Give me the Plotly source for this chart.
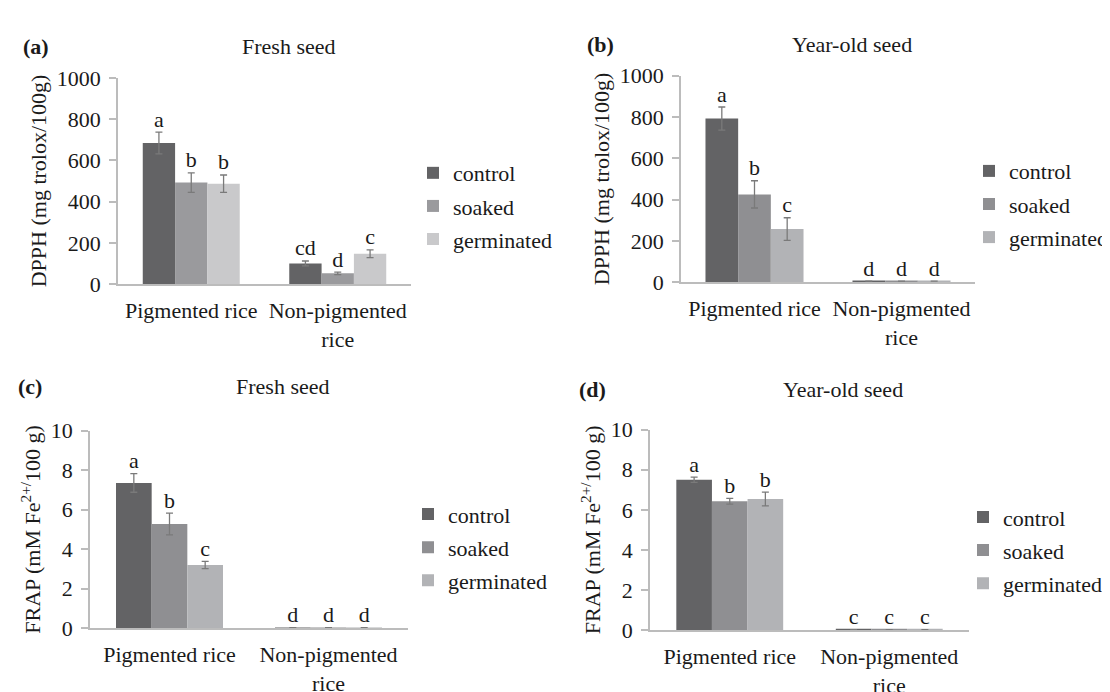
import plotly.graph_objects as go

# ---------------- data ----------------
categories = ["Pigmented rice", "Non-pigmented<br>rice"]
series_names = ["control", "soaked", "germinated"]

# (a) DPPH, fresh seed
dpph_fresh_control = [684, 100]
dpph_fresh_soaked = [492, 52]
dpph_fresh_germinated = [487, 147]
dpph_fresh_control_err = [53, 12]
dpph_fresh_soaked_err = [47, 6]
dpph_fresh_germinated_err = [42, 19]
dpph_fresh_letters = [["a", "cd"], ["b", "d"], ["b", "c"]]

# (b) DPPH, year-old seed
dpph_old_control = [792, 5]
dpph_old_soaked = [425, 5]
dpph_old_germinated = [257, 5]
dpph_old_control_err = [56, 0]
dpph_old_soaked_err = [66, 0]
dpph_old_germinated_err = [55, 0]
dpph_old_letters = [["a", "d"], ["b", "d"], ["c", "d"]]

# (c) FRAP, fresh seed
frap_fresh_control = [7.35, 0.03]
frap_fresh_soaked = [5.27, 0.03]
frap_fresh_germinated = [3.2, 0.03]
frap_fresh_control_err = [0.47, 0]
frap_fresh_soaked_err = [0.55, 0]
frap_fresh_germinated_err = [0.18, 0]
frap_fresh_letters = [["a", "d"], ["b", "d"], ["c", "d"]]

# (d) FRAP, year-old seed
frap_old_control = [7.5, 0.03]
frap_old_soaked = [6.43, 0.03]
frap_old_germinated = [6.54, 0.03]
frap_old_control_err = [0.13, 0]
frap_old_soaked_err = [0.14, 0]
frap_old_germinated_err = [0.34, 0]
frap_old_letters = [["a", "c"], ["b", "c"], ["b", "c"]]

dpph_ticks = [0, 200, 400, 600, 800, 1000]
frap_ticks = [0, 2, 4, 6, 8, 10]

# ---------------- styling ----------------
W, H = 1110, 692
FONT = "Liberation Serif"
TXT = "#1a1a1a"
AXC = "#bcbcbc"
colors_a = ["#636365", "#9a9a9d", "#c9c9cb"]
colors_b = ["#636365", "#8f8f92", "#b2b3b6"]

panels = [
    dict(label="(a)", title="Fresh seed",
         vals=[dpph_fresh_control, dpph_fresh_soaked, dpph_fresh_germinated],
         errs=[dpph_fresh_control_err, dpph_fresh_soaked_err, dpph_fresh_germinated_err],
         letters=dpph_fresh_letters, colors=colors_a, ticks=dpph_ticks,
         ytitle="DPPH (mg trolox/100g)",
         xpx=(110, 403), ypx=(274, 60), gap=0.338,
         titlepos=(280, 27), labpos=(28, 27), legpos=(405, 193)),
    dict(label="(b)", title="Year-old seed",
         vals=[dpph_old_control, dpph_old_soaked, dpph_old_germinated],
         errs=[dpph_old_control_err, dpph_old_soaked_err, dpph_old_germinated_err],
         letters=dpph_old_letters, colors=colors_b, ticks=dpph_ticks,
         ytitle="DPPH (mg trolox/100g)",
         xpx=(673, 967), ypx=(272, 57.7), gap=0.333,
         titlepos=(844, 25), labpos=(592, 25), legpos=(961, 191)),
    dict(label="(c)", title="Fresh seed",
         vals=[frap_fresh_control, frap_fresh_soaked, frap_fresh_germinated],
         errs=[frap_fresh_control_err, frap_fresh_soaked_err, frap_fresh_germinated_err],
         letters=frap_fresh_letters, colors=colors_b, ticks=frap_ticks,
         ytitle="FRAP (mM Fe<sup>2+/</sup>100 g)",
         xpx=(82, 400), ypx=(631, 426), gap=0.327,
         titlepos=(274, 380), labpos=(22, 380), legpos=(400, 547)),
    dict(label="(d)", title="Year-old seed",
         vals=[frap_old_control, frap_old_soaked, frap_old_germinated],
         errs=[frap_old_control_err, frap_old_soaked_err, frap_old_germinated_err],
         letters=frap_old_letters, colors=colors_b, ticks=frap_ticks,
         ytitle="FRAP (mM Fe<sup>2+/</sup>100 g)",
         xpx=(642, 961), ypx=(633, 425), gap=0.33,
         titlepos=(835, 383), labpos=(584, 383), legpos=(955, 550)),
]

fig = go.Figure()
layout = dict(
    width=W, height=H, autosize=False,
    margin=dict(l=0, r=0, t=0, b=0),
    paper_bgcolor="white", plot_bgcolor="white",
    font=dict(family=FONT, size=22, color=TXT),
    barmode="overlay",
)
annotations = []

for k, p in enumerate(panels):
    n = "" if k == 0 else str(k + 1)
    xa, ya = "x" + n, "y" + n
    leg = "legend" + n
    w = (1 - p["gap"]) / 3
    for j in range(3):
        xs = [i + (j - 1) * w for i in range(len(categories))]
        fig.add_trace(go.Bar(
            x=xs, y=p["vals"][j], width=w,
            name=series_names[j], legend=leg, legendgroup=f"{k}-{j}",
            marker=dict(color=p["colors"][j], line=dict(width=0)),
            error_y=dict(type="data", array=p["errs"][j], visible=True,
                         color="#7a7a7a", thickness=1.3, width=3.5),
            xaxis=xa, yaxis=ya, hoverinfo="skip",
        ))
        ytxt = [v + e for v, e in zip(p["vals"][j], p["errs"][j])]
        fig.add_trace(go.Scatter(
            x=xs, y=ytxt, mode="text", text=p["letters"][j],
            textposition="top center",
            textfont=dict(family=FONT, size=22, color=TXT),
            showlegend=False, cliponaxis=False, hoverinfo="skip",
            xaxis=xa, yaxis=ya,
        ))
    x0, x1 = p["xpx"]
    yb, yt = p["ypx"]
    layout["xaxis" + n] = dict(
        domain=[x0 / W, x1 / W], anchor=ya, range=[-0.5, 1.5],
        tickvals=list(range(len(categories))), ticktext=categories,
        showline=True, linecolor=AXC, linewidth=1.5, ticks="",
        showgrid=False, zeroline=False, ticklabelstandoff=6,
        tickfont=dict(family=FONT, size=22, color=TXT), fixedrange=True,
    )
    layout["yaxis" + n] = dict(
        domain=[1 - yb / H, 1 - yt / H], anchor=xa,
        range=[p["ticks"][0], p["ticks"][-1]], tickvals=p["ticks"],
        showline=True, linecolor=AXC, linewidth=1.5,
        ticks="outside", ticklen=7, tickcolor=AXC, tickwidth=1.5,
        showgrid=False, zeroline=False, ticklabelstandoff=4,
        tickfont=dict(family=FONT, size=22, color=TXT), fixedrange=True,
        title=dict(text=p["ytitle"], font=dict(family=FONT, size=22, color=TXT), standoff=4),
    )
    lx, ly = p["legpos"]
    layout[leg] = dict(
        x=lx / W, y=1 - ly / H, xanchor="left", yanchor="middle",
        xref="paper", yref="paper", bgcolor="rgba(0,0,0,0)",
        font=dict(family=FONT, size=22, color=TXT),
        tracegroupgap=1.5, itemclick=False, itemdoubleclick=False,
    )
    tx, ty = p["titlepos"]
    annotations.append(dict(
        text=p["title"], x=tx / W, y=1 - ty / H, xref="paper", yref="paper",
        xanchor="center", yanchor="middle", showarrow=False,
        font=dict(family=FONT, size=22, color=TXT)))
    lbx, lby = p["labpos"]
    annotations.append(dict(
        text="<b>" + p["label"] + "</b>", x=lbx / W, y=1 - lby / H,
        xref="paper", yref="paper", xanchor="center", yanchor="middle",
        showarrow=False, font=dict(family=FONT, size=22, color=TXT)))

layout["annotations"] = annotations
fig.update_layout(**layout)
fig.write_html("out.html", config={"displayModeBar": False})
